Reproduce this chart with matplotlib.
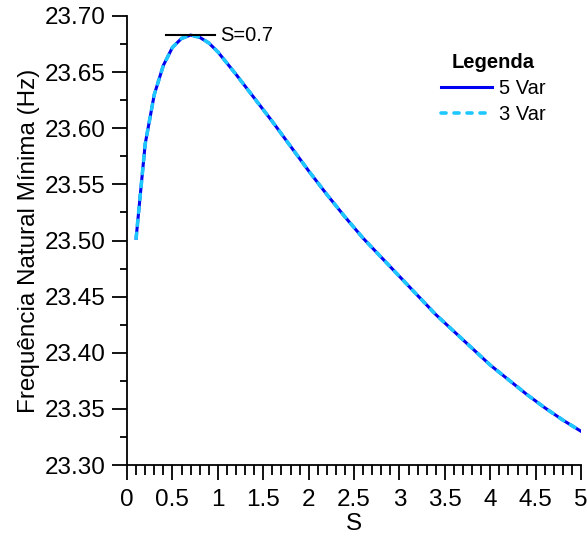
import matplotlib

matplotlib.use("Agg")
import matplotlib.pyplot as plt
from matplotlib.ticker import FormatStrFormatter, FuncFormatter, MultipleLocator

plt.rcParams["font.family"] = ["Liberation Sans", "DejaVu Sans"]

S = [0.1, 0.2, 0.3, 0.4, 0.5, 0.6, 0.7, 0.8, 0.9, 1.0,
     1.2, 1.4, 1.6, 1.8, 2.0, 2.2, 2.4, 2.6, 2.8, 3.0,
     3.2, 3.4, 3.6, 3.8, 4.0, 4.2, 4.4, 4.6, 4.8, 5.0]
freq_5var = [23.502, 23.586, 23.630, 23.656, 23.672, 23.680, 23.683, 23.681, 23.676, 23.668,
             23.648, 23.627, 23.606, 23.584, 23.562, 23.541, 23.521, 23.502, 23.485, 23.468,
             23.451, 23.434, 23.419, 23.404, 23.389, 23.376, 23.363, 23.351, 23.340, 23.330]
freq_3var = list(freq_5var)
S_PEAK = 0.7
PEAK_LABEL = "S=0.7"

fig = plt.figure(figsize=(5.87, 5.42), dpi=100)
ax = fig.add_axes([0.2164, 0.142, 0.7736, 0.8285])

ax.plot(S, freq_5var, color="#0000f0", lw=2.2, label="5 Var", zorder=3)
ax.plot(S, freq_3var, color="#1ec8ff", lw=2.6, ls=(0, (1.4, 2.2)),
        dash_capstyle="round", label="3 Var", zorder=4)

# marker of the peak
y_peak = max(freq_5var)
ax.plot([S_PEAK - 0.27, S_PEAK + 0.27], [y_peak, y_peak], color="black", lw=1.5, zorder=5)
ax.text(S_PEAK + 0.33, y_peak, PEAK_LABEL, fontsize=14.5, va="center", ha="left")

ax.set_xlim(0, 5)
ax.set_ylim(23.30, 23.70)
ax.xaxis.set_major_locator(MultipleLocator(0.5))
ax.xaxis.set_minor_locator(MultipleLocator(0.1))
ax.yaxis.set_major_locator(MultipleLocator(0.05))
ax.yaxis.set_minor_locator(MultipleLocator(0.025))
ax.yaxis.set_major_formatter(FormatStrFormatter("%.2f"))
ax.xaxis.set_major_formatter(FuncFormatter(lambda v, p: f"{v:g}"))

for side in ("top", "right"):
    ax.spines[side].set_visible(False)
for side in ("left", "bottom"):
    ax.spines[side].set_linewidth(1.3)

ax.tick_params(which="major", direction="out", length=10.5, width=1.3, labelsize=17.5, pad=5)
ax.tick_params(axis="x", which="major", pad=7)
ax.tick_params(which="minor", direction="out", length=7, width=1.3)
ax.tick_params(axis="y", which="minor", length=5)

ax.set_xlabel("S", fontsize=17.5, labelpad=1)
ax.set_ylabel("Frequência Natural Mínima (Hz)", fontsize=17.5, labelpad=3)

leg = ax.legend(title="Legenda", loc="upper left", bbox_to_anchor=(0.692, 0.918),
                frameon=False, fontsize=14.5, handlelength=2.5, handletextpad=0.35,
                labelspacing=0.35, borderaxespad=0, borderpad=0)
leg.get_title().set_fontweight("bold")
leg.get_title().set_fontsize(14.5)

fig.savefig("out.png", dpi=100)
